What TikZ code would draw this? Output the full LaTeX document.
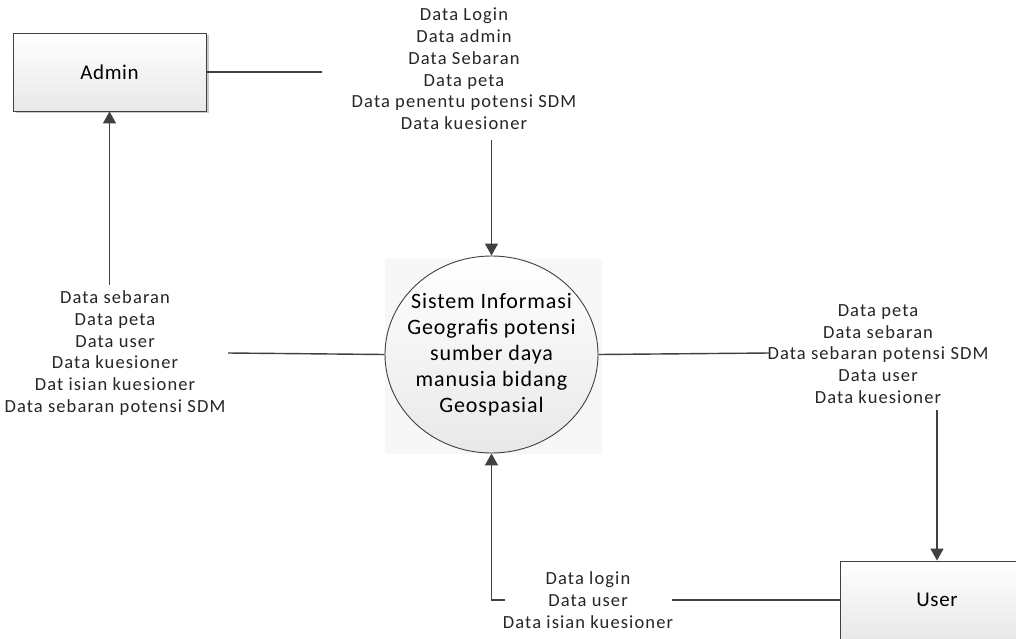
\documentclass[tikz,border=0pt]{standalone}
\usepackage{fontspec}
\setmainfont{Carlito}
\usetikzlibrary{arrows.meta,shadows,shapes.geometric}
\definecolor{linegray}{HTML}{404040}
\tikzset{
  entity/.style={draw=linegray, line width=0.9pt, minimum width=193pt, minimum height=78pt,
    top color=white, bottom color=black!9,
    font=\fontsize{21}{25}\selectfont\addfontfeature{LetterSpace=3},
    drop shadow={shadow xshift=2.5pt, shadow yshift=-2.5pt, fill=black!35, opacity=0.6}},
  process/.style={ellipse, draw=linegray, line width=0.9pt, minimum width=213pt, minimum height=197pt,
    top color=white, bottom color=black!9, align=center, inner xsep=-30pt, inner ysep=0pt,
    font=\fontsize{22}{26}\selectfont\addfontfeature{LetterSpace=4}},
  flowlabel/.style={align=center, inner sep=1pt,
    font=\fontsize{18.5}{21.8}\selectfont\addfontfeature{LetterSpace=6}, text=black!85},
  flow/.style={draw=linegray, line width=1.4pt},
  arrowflow/.style={flow, -{Triangle[width=13pt,length=12pt]}},
}
\begin{document}
\begin{tikzpicture}[x=1pt,y=-1pt]
\useasboundingbox (0,0) rectangle (1016,639);
\fill[white] (0,0) rectangle (1016,639);
% faint backdrop behind the process
\fill[black!3] (385,259) rectangle (602,454);

\node[entity] (admin) at (109.5,72) {Admin};
\node[entity] (user) at (937,600) {User};
\node[process] (sys) at (491.5,354.5) {Sistem Informasi\\Geografis potensi\\sumber daya\\manusia bidang\\Geospasial};

\node[flowlabel] (ltop) at (464,69) {Data Login\\Data admin\\Data Sebaran\\Data peta\\Data penentu potensi SDM\\Data kuesioner};
\node[flowlabel] (lleft) at (115,353) {Data sebaran\\Data peta\\Data user\\Data kuesioner\\Dat isian kuesioner\\Data sebaran potensi SDM};
\node[flowlabel] (lright) at (878,354) {Data peta\\Data sebaran\\Data sebaran potensi SDM\\Data user\\Data kuesioner};
\node[flowlabel] (lbot) at (588,600) {Data login\\Data user\\Data isian kuesioner};

\coordinate (topend) at (322,72);
\coordinate (topstart) at (sys.north |- 0,140);
\coordinate (leftend) at (228,353);
\coordinate (leftstart) at (admin.south |- 0,285);
\coordinate (rightend) at (770,353);
\coordinate (rightstart) at (user.north |- 0,410);
\coordinate (botend) at (672,600);
\coordinate (botstart) at (505,600);
\coordinate (botcorner) at (sys.south |- 0,600);

% admin -> system
\draw[flow] (admin.east) -- (topend);
\draw[arrowflow] (topstart) -- (sys.north);
% system -> admin
\draw[flow] (sys.west) -- (leftend);
\draw[arrowflow] (leftstart) -- (admin.south);
% system -> user
\draw[flow] (sys.east) -- (rightend);
\draw[arrowflow] (rightstart) -- (user.north);
% user -> system
\draw[flow] (user.west) -- (botend);
\draw[arrowflow] (botstart) -- (botcorner) -- (sys.south);
\end{tikzpicture}
\end{document}
